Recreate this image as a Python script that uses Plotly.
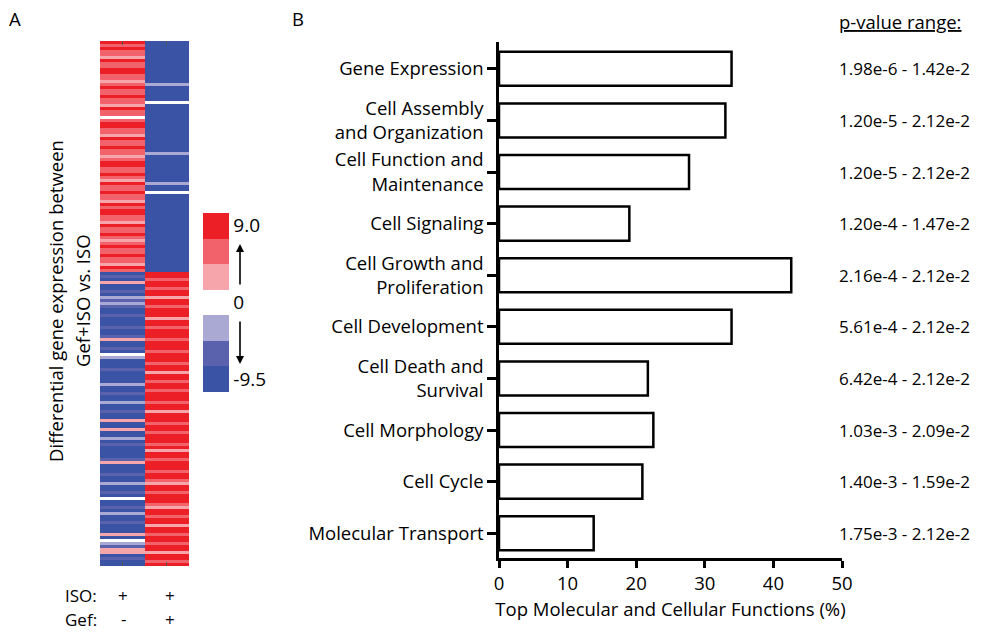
import plotly.graph_objects as go

W, H = 987, 632

# ---------------- Panel B data ----------------
categories = [
    "Gene Expression",
    "Cell Assembly<br>and Organization",
    "Cell Function and<br>Maintenance",
    "Cell Signaling",
    "Cell Growth and<br>Proliferation",
    "Cell Development",
    "Cell Death and<br>Survival",
    "Cell Morphology",
    "Cell Cycle",
    "Molecular Transport",
]
percent = [33.9, 33.0, 27.7, 19.0, 42.6, 33.9, 21.7, 22.5, 20.9, 13.8]
pvalue_ranges = [
    "1.98e-6 - 1.42e-2",
    "1.20e-5 - 2.12e-2",
    "1.20e-5 - 2.12e-2",
    "1.20e-4 - 1.47e-2",
    "2.16e-4 - 2.12e-2",
    "5.61e-4 - 2.12e-2",
    "6.42e-4 - 2.12e-2",
    "1.03e-3 - 2.09e-2",
    "1.40e-3 - 1.59e-2",
    "1.75e-3 - 2.12e-2",
]
x_ticks = [0, 10, 20, 30, 40, 50]

# ---------------- Panel A data (row codes) ----------------
# B=-9.5 (strong blue), b=-6, l=-3, w=0, p=3, r=6, R=9.0 (strong red)
level_codes = ["B", "b", "l", "w", "p", "r", "R"]
level_colors = ["#3a53a4", "#5b62ad", "#aaa9d3", "#ffffff", "#f6a6aa", "#f1626a", "#ed1f26"]
colorbar_ticks = ["-9.5", "0", "9.0"]

col_gef_minus = (
    "RrRrrpRrrR" "RrrprRrrRr" "rpRrrwrRRr" "rpRrrRrrpr" "RRrrRrpRrr"
    "RrrpRrRRrr" "pRrrRrprRr" "rRrrpRr"
    "BbBpBBbBlb" "lbBBbBBBbB" "BbpBBbBwlB" "BBbBBBBlBB" "bBBlBBbBBp"
    "BBpBBlBbBB" "BBbpBBBbBB" "lBBbBwBBbB" "lBBbBBBpBw" "lbppBbBB"
)
col_gef_plus = (
    "BBBBBBBBBB" "BBBBlBBBBB" "wBBBBBBBBB" "BBBBBBBlBB" "BBBBBBBlBB"
    "wBBBBBBBBB" "BBBBBBBBBB" "BBBBBBB"
    "RRrRRrRRpR" "RrRRRpRRrR" "RRrRRRrRRR" "rRRpRRrRRr" "RRRrRRpRRR"
    "rRRrRRRrRp" "RRrRRRrRRr" "pRRrRRRrpR" "RrRRpRRrRR" "rRRpRRrR"
)
heat_columns = ["ISO+ Gef-", "ISO+ Gef+"]


def px(x):
    return x / W


def py(y):
    return 1 - y / H


n_rows = min(len(col_gef_minus), len(col_gef_plus))
z = [[level_codes.index(col_gef_minus[i]), level_codes.index(col_gef_plus[i])] for i in range(n_rows)]

n = len(level_colors)
colorscale = []
for i, c in enumerate(level_colors):
    colorscale.append([i / n, c])
    colorscale.append([(i + 1) / n, c])

FONT = "Open Sans, Liberation Sans, sans-serif"
FS = 18.5
FS_P = 17

fig = go.Figure()

fig.add_trace(go.Heatmap(
    z=z, x=heat_columns, y=list(range(n_rows)),
    colorscale=colorscale, zmin=-0.5, zmax=n - 0.5,
    xaxis="x", yaxis="y", hoverinfo="skip",
    colorbar=dict(
        x=px(203), xanchor="left", y=py(213), yanchor="top",
        len=179, lenmode="pixels", thickness=26, thicknessmode="pixels",
        outlinewidth=0, xpad=0, ypad=0, ticks="", ticklabelposition="outside",
        tickvals=[0, 3, 6], ticktext=colorbar_ticks,
        tickfont=dict(family=FONT, size=FS + 0.5, color="black"),
    ),
))

fig.add_trace(go.Bar(
    y=categories, x=percent, orientation="h",
    marker=dict(color="white", line=dict(color="black", width=2.5)),
    width=0.66, xaxis="x2", yaxis="y2", hoverinfo="skip", showlegend=False,
))


def txt(text, x, y, xanchor="center", size=FS, angle=0):
    return dict(text=text, x=px(x), y=py(y), xref="paper", yref="paper",
                xanchor=xanchor, yanchor="middle", showarrow=False, textangle=angle,
                font=dict(family=FONT, size=size, color="black"))


SMALL = 17
annotations = [
    txt("A", 15, 18),
    txt("B", 298, 18),
    txt("Differential gene expression between", 55, 301, angle=-90),
    txt("Gef+ISO vs. ISO", 82, 301, angle=-90),
    txt("ISO:", 99, 595, xanchor="right", size=SMALL),
    txt("Gef:", 99, 619, xanchor="right", size=SMALL),
    txt("+", 123, 595, size=SMALL),
    txt("+", 170, 595, size=SMALL),
    txt("-", 123, 618, size=SMALL),
    txt("+", 170, 619, size=SMALL),
    txt("<u>p-value range:</u>", 837, 22, xanchor="left", size=18.5),
    # arrows next to the colour scale
    dict(text="", x=px(240), y=py(244), xref="paper", yref="paper", ax=0, ay=42,
         showarrow=True, arrowhead=2, arrowsize=1, arrowwidth=1.6, arrowcolor="black"),
    dict(text="", x=px(240), y=py(364), xref="paper", yref="paper", ax=0, ay=-44,
         showarrow=True, arrowhead=2, arrowsize=1, arrowwidth=1.6, arrowcolor="black"),
]
for cat, pv in zip(categories, pvalue_ranges):
    annotations.append(dict(text=pv, x=px(837), y=cat, xref="paper", yref="y2",
                            xanchor="left", yanchor="middle", showarrow=False,
                            font=dict(family=FONT, size=FS_P, color="black")))

fig.update_layout(
    width=W, height=H, margin=dict(l=0, r=0, t=0, b=0, autoexpand=False),
    paper_bgcolor="white", plot_bgcolor="white",
    font=dict(family=FONT, size=FS, color="black"),
    showlegend=False,
    xaxis=dict(domain=[px(100), px(189)], showgrid=False, zeroline=False, automargin=False,
               showticklabels=False, ticks="inside", ticklen=4, tickcolor="#555",
               tickwidth=1, mirror="ticks", showline=False),
    yaxis=dict(domain=[py(566), py(41)], autorange="reversed", showgrid=False, automargin=False,
               zeroline=False, showticklabels=False, ticks=""),
    xaxis2=dict(domain=[px(499), px(842)], anchor="y2", range=[0, 50], automargin=False,
                tickvals=x_ticks, showgrid=False, zeroline=False,
                showline=True, linecolor="black", linewidth=2.5,
                ticks="outside", ticklen=7, tickwidth=2.5, tickcolor="black",
                tickfont=dict(family=FONT, size=FS, color="black"),
                title=dict(text="Top Molecular and Cellular Functions (%)",
                           font=dict(family=FONT, size=FS, color="black"), standoff=10)),
    yaxis2=dict(domain=[py(558), py(42)], anchor="x2", type="category", automargin=False,
                range=[len(categories) - 0.52, -0.52], autorange=False,
                showgrid=False, zeroline=False,
                showline=True, linecolor="black", linewidth=2.5,
                ticks="outside", ticklen=9, tickwidth=2.5, tickcolor="black",
                tickfont=dict(family=FONT, size=FS, color="black")),
    annotations=annotations,
)

fig.write_html(
    "out.html",
    config={"displayModeBar": False},
    post_script=(
        "document.body.style.margin='0px';"
        "document.body.style.overflow='hidden';"
        "document.documentElement.style.overflow='hidden';"
    ),
)
